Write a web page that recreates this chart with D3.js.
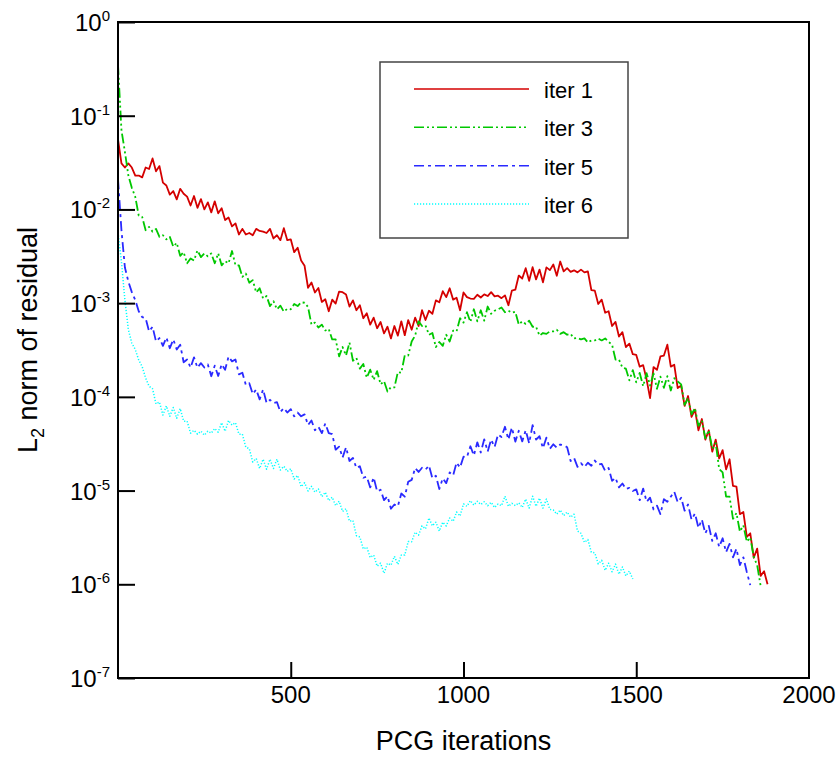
<!DOCTYPE html>
<html>
<head>
<meta charset="utf-8">
<script src="https://cdn.jsdelivr.net/npm/d3@7"></script>
<style>
  html, body { margin: 0; padding: 0; background: #fff; }
  svg { display: block; font-family: "Liberation Sans", Arial, Helvetica, sans-serif; }
</style>
</head>
<body>
<svg id="chart" width="839" height="758"></svg>
<script>
// ---------------- DATA ----------------
const iterStep = 10; // samples are every 10 PCG iterations, starting at 0

const iter1 = [5.6e-2,3.1e-2,2.8e-2,3.1e-2,2.8e-2,2.3e-2,2.3e-2,2.2e-2,2.8e-2,2.7e-2,
3.5e-2,2.55e-2,2.9e-2,1.93e-2,1.8e-2,1.44e-2,1.57e-2,1.28e-2,1.66e-2,1.47e-2,
1.37e-2,1.1e-2,1.39e-2,1.04e-2,1.29e-2,1.0e-2,1.19e-2,9.3e-3,1.22e-2,9.1e-3,
1.03e-2,7.7e-3,8.2e-3,6.6e-3,7.1e-3,5.4e-3,6.2e-3,5.4e-3,5.6e-3,5.3e-3,
6.2e-3,5.9e-3,5.8e-3,5.6e-3,6.2e-3,4.9e-3,5.3e-3,4.7e-3,6.3e-3,4.7e-3,
4.8e-3,3.5e-3,3.9e-3,2.85e-3,2.5e-3,1.46e-3,1.66e-3,1.3e-3,1.45e-3,1.03e-3,
1.1e-3,8.2e-4,1.09e-3,9.9e-4,1.33e-3,1.31e-3,1.24e-3,9.2e-4,1.07e-3,8.4e-4,
9.5e-4,6.9e-4,7.8e-4,5.9e-4,7.0e-4,5.4e-4,6.3e-4,4.75e-4,5.6e-4,4.2e-4,
5.7e-4,4.5e-4,6.4e-4,4.55e-4,6.6e-4,5.2e-4,7.0e-4,5.7e-4,8.4e-4,6.6e-4,
8.3e-4,7.7e-4,1.07e-3,1.02e-3,1.34e-3,1.16e-3,1.44e-3,1.09e-3,1.14e-3,8.4e-4,
1.3e-3,1.16e-3,1.12e-3,1.11e-3,1.23e-3,1.15e-3,1.24e-3,1.19e-3,1.31e-3,1.18e-3,
1.2e-3,1.13e-3,1.21e-3,9.5e-4,1.36e-3,1.39e-3,1.97e-3,1.83e-3,2.36e-3,1.73e-3,
2.42e-3,1.79e-3,2.28e-3,1.67e-3,2.41e-3,2.25e-3,2.59e-3,1.96e-3,2.78e-3,2.18e-3,
2.36e-3,2.16e-3,2.24e-3,2.13e-3,2.28e-3,2.13e-3,2.18e-3,1.38e-3,1.36e-3,9.8e-4,
1.09e-3,7.9e-4,8.2e-4,5.7e-4,6.3e-4,4.4e-4,4.9e-4,3.4e-4,3.7e-4,2.85e-4,
2.8e-4,2.1e-4,2.18e-4,1.53e-4,9.7e-5,2.08e-4,1.94e-4,2.7e-4,2.76e-4,3.6e-4,
2.1e-4,2.2e-4,1.24e-4,1.32e-4,8.0e-5,1.02e-4,6.1e-5,7.3e-5,4.4e-5,5.8e-5,
3.5e-5,4.4e-5,2.6e-5,3.5e-5,2.2e-5,2.7e-5,1.68e-5,2.16e-5,1.12e-5,1.1e-5,
5.6e-6,5.9e-6,3.2e-6,3.5e-6,1.92e-6,2.4e-6,1.23e-6,1.38e-6,1.0e-6];

const iter3 = [3.5e-1,7.0e-2,4.1e-2,2.3e-2,1.7e-2,1.36e-2,8.6e-3,8.3e-3,6.0e-3,6.5e-3,
5.8e-3,6.2e-3,5.1e-3,5.3e-3,4.8e-3,5.1e-3,4.0e-3,4.4e-3,3.2e-3,3.5e-3,
2.66e-3,3.0e-3,2.85e-3,3.65e-3,3.1e-3,3.4e-3,3.16e-3,3.4e-3,2.66e-3,3.4e-3,
2.53e-3,2.8e-3,2.66e-3,3.6e-3,2.54e-3,2.53e-3,1.91e-3,2.07e-3,1.65e-3,1.76e-3,
1.3e-3,1.44e-3,1.12e-3,1.19e-3,9.3e-4,1.05e-3,8.6e-4,9.4e-4,8.1e-4,8.7e-4,
8.6e-4,9.8e-4,9.3e-4,1.02e-3,1.01e-3,9.1e-4,5.9e-4,6.2e-4,5.5e-4,5.9e-4,
5.1e-4,5.3e-4,4.1e-4,4.1e-4,2.7e-4,3.4e-4,2.76e-4,3.8e-4,2.43e-4,2.6e-4,
2.0e-4,2.24e-4,1.6e-4,1.95e-4,1.52e-4,1.88e-4,1.36e-4,1.47e-4,1.14e-4,1.27e-4,
1.26e-4,1.84e-4,1.81e-4,2.77e-4,2.76e-4,3.9e-4,4.5e-4,6.4e-4,5.7e-4,5.8e-4,
4.6e-4,4.8e-4,3.4e-4,3.85e-4,3.5e-4,4.6e-4,3.9e-4,5.1e-4,5.0e-4,6.9e-4,
6.2e-4,8.0e-4,6.3e-4,8.6e-4,6.4e-4,8.4e-4,6.5e-4,9.2e-4,7.7e-4,8.3e-4,
8.6e-4,9.0e-4,8.0e-4,8.3e-4,7.9e-4,8.1e-4,5.9e-4,6.4e-4,6.0e-4,6.5e-4,
5.6e-4,5.6e-4,4.5e-4,4.8e-4,4.7e-4,5.0e-4,5.0e-4,5.2e-4,4.7e-4,4.9e-4,
4.6e-4,4.7e-4,4.2e-4,4.24e-4,4.1e-4,4.2e-4,3.8e-4,4.0e-4,4.0e-4,4.2e-4,
4.0e-4,4.2e-4,3.85e-4,3.6e-4,2.5e-4,2.5e-4,2.05e-4,2.0e-4,1.5e-4,1.93e-4,
1.43e-4,1.8e-4,1.3e-4,1.79e-4,1.32e-4,1.78e-4,1.22e-4,1.64e-4,1.25e-4,1.66e-4,
1.17e-4,1.58e-4,1.46e-4,1.36e-4,8.2e-5,9.7e-5,6.5e-5,7.6e-5,4.9e-5,5.6e-5,
3.6e-5,4.4e-5,2.8e-5,3.2e-5,1.7e-5,1.56e-5,8.6e-6,8.6e-6,5.0e-6,5.75e-6,
3.65e-6,4.25e-6,2.85e-6,3.16e-6,1.96e-6,1.6e-6,9.6e-7];

const iter5 = [2.1e-2,6.0e-3,2.4e-3,1.7e-3,1.31e-3,1.08e-3,8.2e-4,7.1e-4,6.9e-4,5.0e-4,
5.6e-4,3.9e-4,4.24e-4,3.5e-4,4.3e-4,3.3e-4,4.1e-4,3.2e-4,3.6e-4,2.34e-4,
2.5e-4,2.05e-4,2.64e-4,2.04e-4,2.29e-4,2.06e-4,2.22e-4,1.66e-4,2.15e-4,1.67e-4,
2.23e-4,1.94e-4,2.69e-4,2.39e-4,2.5e-4,1.74e-4,1.81e-4,1.34e-4,1.4e-4,1.07e-4,
1.2e-4,9.4e-5,1.2e-4,8.6e-5,9.3e-5,8.6e-5,8.8e-5,6.9e-5,7.6e-5,6.8e-5,
7.4e-5,6.2e-5,6.8e-5,6.2e-5,6.5e-5,5.0e-5,5.6e-5,4.4e-5,4.8e-5,4.1e-5,
5.2e-5,4.1e-5,4.0e-5,2.73e-5,2.94e-5,2.25e-5,2.9e-5,2.07e-5,2.23e-5,1.74e-5,
1.82e-5,1.37e-5,1.41e-5,1.08e-5,1.38e-5,9.8e-6,1.02e-5,7.9e-6,8.7e-6,6.4e-6,
7.1e-6,6.8e-6,9.3e-6,8.6e-6,1.24e-5,1.3e-5,1.74e-5,1.58e-5,1.75e-5,1.67e-5,
1.85e-5,1.35e-5,1.44e-5,1.04e-5,1.35e-5,1.2e-5,1.56e-5,1.45e-5,1.99e-5,1.76e-5,
2.3e-5,2.28e-5,2.97e-5,2.37e-5,3.27e-5,2.55e-5,3.52e-5,2.61e-5,3.5e-5,2.92e-5,
3.96e-5,3.73e-5,4.8e-5,3.5e-5,4.7e-5,3.33e-5,4.35e-5,3.35e-5,4.4e-5,3.2e-5,
5.0e-5,3.5e-5,3.8e-5,2.83e-5,3.67e-5,2.79e-5,3.12e-5,2.86e-5,3.1e-5,3.04e-5,
2.9e-5,2.07e-5,2.23e-5,1.79e-5,1.96e-5,1.78e-5,1.98e-5,1.84e-5,2.09e-5,1.89e-5,
1.93e-5,1.62e-5,1.74e-5,1.27e-5,1.37e-5,1.08e-5,1.19e-5,1.04e-5,1.07e-5,9.9e-6,
1.03e-5,7.9e-6,1.05e-5,7.6e-6,8.4e-6,6.3e-6,6.9e-6,5.6e-6,8.1e-6,7.6e-6,
8.6e-6,9.7e-6,7.5e-6,8.4e-6,6.1e-6,7.1e-6,4.9e-6,5.7e-6,4.0e-6,4.9e-6,
3.5e-6,4.2e-6,2.9e-6,3.5e-6,2.5e-6,3.1e-6,2.2e-6,2.7e-6,1.94e-6,2.4e-6,
1.6e-6,1.94e-6,1.35e-6,9.8e-7];

const iter6 = [5.7e-3,2.75e-3,1.08e-3,5.2e-4,3.75e-4,3.2e-4,2.47e-4,2.1e-4,1.59e-4,1.3e-4,
1.22e-4,8.4e-5,8.8e-5,6.4e-5,8.0e-5,6.2e-5,7.7e-5,5.9e-5,7.5e-5,5.5e-5,
5.5e-5,4.1e-5,4.4e-5,4.0e-5,4.3e-5,3.9e-5,4.3e-5,4.1e-5,4.6e-5,4.2e-5,
5.3e-5,4.3e-5,5.6e-5,5.0e-5,5.3e-5,4.0e-5,4.0e-5,2.9e-5,2.8e-5,2.02e-5,
2.2e-5,1.72e-5,2.16e-5,1.69e-5,2.16e-5,1.72e-5,2.16e-5,1.66e-5,1.82e-5,1.6e-5,
1.71e-5,1.33e-5,1.45e-5,1.1e-5,1.21e-5,9.9e-6,1.11e-5,9.6e-6,1.04e-5,8.6e-6,
9.6e-6,7.8e-6,8.5e-6,6.9e-6,7.7e-6,6.0e-6,6.4e-6,4.7e-6,4.8e-6,3.3e-6,
3.2e-6,2.38e-6,2.49e-6,1.93e-6,2.05e-6,1.56e-6,1.68e-6,1.31e-6,1.68e-6,1.6e-6,
1.99e-6,1.63e-6,2.05e-6,2.05e-6,2.86e-6,2.85e-6,3.6e-6,3.35e-6,4.2e-6,3.9e-6,
5.1e-6,4.2e-6,4.6e-6,3.7e-6,4.6e-6,4.2e-6,5.1e-6,4.7e-6,5.9e-6,5.35e-6,
7.2e-6,6.8e-6,7.8e-6,7.0e-6,7.7e-6,7.1e-6,7.6e-6,6.9e-6,7.5e-6,6.6e-6,
7.2e-6,6.9e-6,8.7e-6,6.8e-6,7.3e-6,6.9e-6,7.4e-6,6.6e-6,8.1e-6,6.5e-6,
8.7e-6,6.8e-6,8.3e-6,6.5e-6,8.1e-6,6.3e-6,6.2e-6,5.6e-6,6.2e-6,5.4e-6,
5.9e-6,5.2e-6,5.6e-6,3.7e-6,3.5e-6,2.8e-6,3.0e-6,2.2e-6,2.16e-6,1.65e-6,
1.8e-6,1.41e-6,1.68e-6,1.36e-6,1.64e-6,1.28e-6,1.53e-6,1.23e-6,1.38e-6,1.14e-6];

const seriesNames = ["iter 1", "iter 3", "iter 5", "iter 6"];
const xTickValues = [500, 1000, 1500, 2000];
const yTickExponents = [0, -1, -2, -3, -4, -5, -6, -7];

// ---------------- STYLE ----------------
const seriesStyle = [
  { color: "#d40000", dash: null,            width: 1.8, legendWidth: 1.5 },
  { color: "#00c800", dash: "10,3,2,3,2,3",  width: 1.8, legendWidth: 1.5 },
  { color: "#2a2aff", dash: "10,4,3,4",      width: 1.8, legendWidth: 1.5 },
  { color: "#00ffff", dash: "1.2,1.8",       width: 1.5, legendWidth: 1.3 }
];
const seriesData = [iter1, iter3, iter5, iter6];

const svg = d3.select("#chart");
const M = { left: 118, right: 809, top: 22, bottom: 678 };

const x = d3.scaleLinear().domain([0, 2000]).range([M.left, M.right]);
const y = d3.scaleLog().domain([1e-7, 1]).range([M.bottom, M.top]);

// ---------------- SERIES ----------------
const line = d3.line()
  .x((d, i) => x(i * iterStep))
  .y(d => y(d));

const plot = svg.append("g");
seriesData.forEach((vals, si) => {
  const st = seriesStyle[si];
  plot.append("path")
    .datum(vals)
    .attr("fill", "none")
    .attr("stroke", st.color)
    .attr("stroke-width", st.width)
    .attr("stroke-linejoin", "round")
    .attr("stroke-dasharray", st.dash)
    .attr("d", line);
});

// ---------------- AXES ----------------
const yAxis = d3.axisLeft(y)
  .tickValues(yTickExponents.map(e => Math.pow(10, e)))
  .tickSizeInner(-17).tickSizeOuter(0).tickFormat("");
const gy = svg.append("g").attr("transform", `translate(${M.left},0)`).call(yAxis);
gy.select(".domain").remove();
gy.selectAll(".tick line").attr("stroke", "#000").attr("stroke-width", 2);

const xAxis = d3.axisBottom(x)
  .tickValues(xTickValues.filter(v => v < 2000))
  .tickSizeInner(-16).tickSizeOuter(0).tickFormat("");
const gx = svg.append("g").attr("transform", `translate(0,${M.bottom})`).call(xAxis);
gx.select(".domain").remove();
gx.selectAll(".tick line").attr("stroke", "#000").attr("stroke-width", 2);

// frame
svg.append("rect")
  .attr("x", M.left).attr("y", M.top)
  .attr("width", M.right - M.left).attr("height", M.bottom - M.top)
  .attr("fill", "none").attr("stroke", "#000").attr("stroke-width", 2);

// y tick labels (10^e)
yTickExponents.forEach(e => {
  const t = svg.append("text")
    .attr("x", 110)
    .attr("y", y(Math.pow(10, e)) + 9)
    .attr("text-anchor", "end")
    .attr("font-size", 24)
    .attr("fill", "#000");
  t.append("tspan").text("10");
  t.append("tspan").attr("font-size", 15).attr("dy", -10).text(String(e));
});

// x tick labels
xTickValues.forEach(v => {
  svg.append("text")
    .attr("x", x(v)).attr("y", 703)
    .attr("text-anchor", "middle")
    .attr("font-size", 24)
    .attr("fill", "#000")
    .text(v);
});

// axis titles
svg.append("text")
  .attr("x", (M.left + M.right) / 2).attr("y", 750)
  .attr("text-anchor", "middle")
  .attr("font-size", 27)
  .attr("fill", "#000")
  .text("PCG iterations");

const yt = svg.append("text")
  .attr("transform", "translate(37,340) rotate(-90)")
  .attr("text-anchor", "middle")
  .attr("font-size", 27)
  .attr("fill", "#000");
yt.append("tspan").text("L");
yt.append("tspan").attr("font-size", 18).attr("dy", 7).text("2");
yt.append("tspan").attr("dy", -7).text(" norm of residual");

// ---------------- LEGEND ----------------
const legend = svg.append("g");
legend.append("rect")
  .attr("x", 380).attr("y", 62).attr("width", 248).attr("height", 176)
  .attr("fill", "#fff").attr("stroke", "#444").attr("stroke-width", 1.5);
const legendY = d3.scalePoint().domain(seriesNames).range([89, 204]);
seriesNames.forEach((name, i) => {
  const st = seriesStyle[i];
  legend.append("line")
    .attr("x1", 414).attr("x2", 529)
    .attr("y1", legendY(name)).attr("y2", legendY(name))
    .attr("stroke", st.color).attr("stroke-width", st.legendWidth)
    .attr("stroke-dasharray", st.dash);
  legend.append("text")
    .attr("x", 544).attr("y", legendY(name) + 9)
    .attr("font-size", 22)
    .attr("fill", "#000")
    .text(name);
});
</script>
</body>
</html>
